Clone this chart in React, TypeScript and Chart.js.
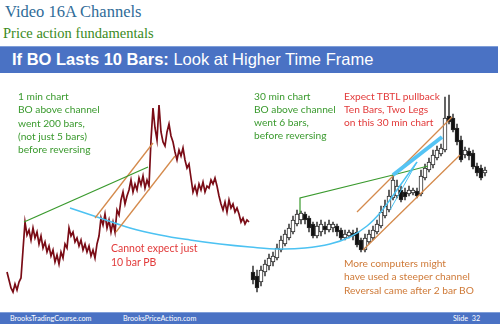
import React, { useEffect, useRef } from "react";
import { Chart, registerables } from "chart.js";

Chart.register(...registerables);

// ---- 1 min chart (left): closes sampled every 2 slide units, from t=7
const oneMinStart = 7;
const oneMinStep = 2;
const oneMinPrice = [
  52, 44, 36, 32, 40, 34, 42, 46, 74, 102, 89, 94, 84, 96, 86, 92, 80, 88, 76, 82,
  72, 78, 68, 74, 62, 69, 60, 72, 66, 80, 76, 96, 88, 92, 82, 86, 78, 84, 74, 80,
  72, 78, 68, 74, 66, 80, 88, 106, 99, 110, 96, 104, 92, 102, 92, 114, 109, 124, 132, 120,
  128, 134, 144, 132, 140, 134, 146, 139, 148, 136, 144, 138, 184, 216, 196, 184, 219, 192, 182, 178,
  192, 200, 188, 182, 172, 164, 174, 168, 176, 164, 156, 160, 146, 132, 138, 130, 140, 134, 142, 132,
  138, 136, 144, 140, 146, 138, 128, 120, 114, 122, 112, 124, 116, 120, 112, 116, 110, 102, 106, 100,
  104, 102,
];

// ---- 30 min chart (right): OHLC candles
const candleStart = 253;
const candleStep = 4;
const candleOpen = [
  52, 48, 42, 52, 58, 62, 66, 74, 80, 86, 92, 100, 104, 110, 106, 100, 88, 92, 98, 94,
  96, 98, 94, 86, 88, 91, 92, 84, 74, 82, 86, 92, 98, 108, 114, 126, 128, 134, 132, 130,
  131, 133, 130, 146, 154, 159, 166, 170, 174, 208, 206, 196, 184, 169, 173, 171, 158, 156, 151,
];
const candleHigh = [
  58, 54, 58, 64, 70, 72, 80, 88, 94, 100, 108, 114, 113, 112, 108, 102, 102, 104, 102, 104,
  102, 100, 96, 94, 94, 94, 96, 86, 90, 94, 98, 104, 118, 124, 134, 149, 144, 138, 136, 138,
  136, 136, 154, 160, 166, 174, 178, 180, 227, 229, 210, 200, 188, 177, 176, 174, 161, 159, 157,
];
const candleLow = [
  40, 32, 38, 48, 54, 58, 64, 72, 78, 84, 90, 98, 100, 100, 92, 86, 86, 88, 90, 92,
  92, 88, 84, 84, 86, 84, 77, 72, 72, 80, 84, 90, 96, 106, 112, 124, 126, 122, 124, 128,
  129, 126, 128, 144, 152, 156, 164, 168, 172, 200, 192, 179, 162, 166, 164, 155, 148, 144, 148,
];
const candleClose = [
  44, 36, 54, 60, 66, 68, 76, 84, 90, 96, 104, 110, 111, 104, 96, 88, 98, 100, 94, 100,
  100, 92, 86, 90, 92, 88, 79, 74, 86, 90, 94, 100, 112, 118, 128, 144, 138, 124, 127, 134,
  134, 128, 148, 156, 162, 169, 174, 176, 206, 202, 194, 182, 164, 174, 168, 157, 151, 146, 154,
];

// ---- drawn annotations (slide units x, price y)
const greenLeft = [[24, 102], [148, 157]];
const orangeLeftUpper = [[95, 106], [153, 181]];
const orangeLeftLower = [[116, 92], [175, 168]];
const cyanArc = [
  [70, 116], [100, 106], [130, 96], [160, 89], [190, 84], [220, 80], [250, 77], [280, 75],
  [305, 76], [330, 80], [350, 87], [367, 98], [380, 111], [392, 127], [404, 144], [417, 162],
];
const cyanSteep = [[390, 114], [417, 162]];
const cyanThick = [[393, 149], [442, 187]];
const greenRight = [[300, 111], [300, 126], [393, 149], [428, 158]];
const orangeRightUpper = [[357, 112], [452, 207]];
const orangeRightLower = [[363, 74], [460, 169]];

const toXY = (pts: number[][]) => pts.map(([x, y]) => ({ x, y }));

const lineDs = (pts: number[][], color: string, width: number, tension = 0) => ({
  type: "line" as const,
  data: toXY(pts),
  xAxisID: "x",
  borderColor: color,
  borderWidth: width,
  pointRadius: 0,
  tension,
  fill: false,
  order: 0,
});

function SlideChart() {
  const ref = useRef<HTMLCanvasElement | null>(null);
  useEffect(() => {
    if (!ref.current) return;
    const candleIdx = candleOpen.map((_, i) => i);
    const chart = new Chart(ref.current, {
      type: "line",
      data: {
        datasets: [
          {
            type: "line",
            data: oneMinPrice.map((p, i) => ({ x: i, y: p })),
            xAxisID: "xl",
            borderColor: "#7a0c16",
            borderWidth: 1.7,
            pointRadius: 0,
            tension: 0,
            order: 3,
          },
          {
            type: "bar",
            data: candleIdx.map((i) => ({ x: i, y: [candleLow[i], candleHigh[i]] })),
            xAxisID: "xc",
            backgroundColor: "#444444",
            barThickness: 1,
            grouped: false,
            order: 2,
          } as any,
          {
            type: "bar",
            data: candleIdx.map((i) => ({
              x: i,
              y: [Math.min(candleOpen[i], candleClose[i]), Math.max(candleOpen[i], candleClose[i])],
            })),
            xAxisID: "xc",
            backgroundColor: candleIdx.map((i) => (candleClose[i] >= candleOpen[i] ? "#ffffff" : "#111111")),
            borderColor: "#2a2a2a",
            borderWidth: 1,
            borderSkipped: false,
            barThickness: 4,
            grouped: false,
            order: 1,
          } as any,
          lineDs(greenLeft, "#3a9a2e", 1.3),
          lineDs(orangeLeftUpper, "#d48a4c", 1.3),
          lineDs(orangeLeftLower, "#d48a4c", 1.3),
          lineDs(cyanArc, "#4cc2f2", 1.5, 0.4),
          lineDs(cyanSteep, "#4cc2f2", 1),
          lineDs(cyanThick, "#55c4f4", 4),
          lineDs(greenRight, "#3a9a2e", 1.2),
          lineDs(orangeRightUpper, "#d48a4c", 1.3),
          lineDs(orangeRightLower, "#d48a4c", 1.3),
        ] as any,
      },
      options: {
        responsive: false,
        animation: false,
        devicePixelRatio: 1,
        layout: { padding: 0 },
        plugins: { legend: { display: false }, tooltip: { enabled: false } },
        scales: {
          x: { type: "linear", min: 0, max: 500, display: false, offset: false },
          xl: {
            type: "linear",
            axis: "x",
            min: -oneMinStart / oneMinStep,
            max: (500 - oneMinStart) / oneMinStep,
            display: false,
            offset: false,
          },
          xc: {
            type: "linear",
            axis: "x",
            min: -candleStart / candleStep,
            max: (500 - candleStart) / candleStep,
            display: false,
            offset: false,
          },
          y: { type: "linear", min: 0, max: 324, display: false },
        },
      } as any,
    });
    return () => chart.destroy();
  }, []);
  return (
    <canvas
      ref={ref}
      width={500}
      height={324}
      style={{ position: "absolute", left: 0, top: 0, width: 500, height: 324 }}
    />
  );
}

const noteFont = "Lato, 'Noto Sans', sans-serif";

function Note(props: { left: number; top: number; color: string; lines: string[]; size?: number; lh?: number }) {
  return (
    <div
      style={{
        position: "absolute",
        left: props.left,
        top: props.top,
        color: props.color,
        fontFamily: noteFont,
        fontSize: props.size ?? 10.2,
        lineHeight: `${props.lh ?? 13.3}px`,
        whiteSpace: "pre",
      }}
    >
      {props.lines.map((l, i) => (
        <div key={i}>{l}</div>
      ))}
    </div>
  );
}

export default function App() {
  return (
    <div
      style={{
        position: "fixed",
        left: 0,
        top: 0,
        width: 500,
        height: 324,
        background: "#ffffff",
        overflow: "hidden",
      }}
    >
      <div
        style={{
          position: "absolute",
          left: 5,
          top: 2,
          fontFamily: "'Liberation Serif', serif",
          fontSize: 16.5,
          color: "#2f6b98",
          lineHeight: "20px",
          whiteSpace: "pre",
        }}
      >
        Video 16A Channels
      </div>
      <div
        style={{
          position: "absolute",
          left: 3,
          top: 24,
          fontFamily: "'Liberation Serif', serif",
          fontSize: 14.5,
          color: "#3a8a22",
          lineHeight: "18px",
          whiteSpace: "pre",
        }}
      >
        Price action fundamentals
      </div>
      <div
        style={{
          position: "absolute",
          left: 0,
          top: 46,
          width: 498,
          height: 27,
          background: "#4a72c4",
          borderTop: "1px solid #7f9ed8",
          boxSizing: "border-box",
        }}
      />
      <div
        style={{
          position: "absolute",
          left: 12,
          top: 49,
          color: "#ffffff",
          fontFamily: "'Liberation Sans', Arial, sans-serif",
          fontSize: 16.5,
          lineHeight: "20px",
          whiteSpace: "pre",
        }}
      >
        <span style={{ fontWeight: "bold" }}>If BO Lasts 10 Bars:</span> Look at Higher Time Frame
      </div>

      <SlideChart />

      <Note
        left={18}
        top={90}
        color="#3a9a2e"
        lines={["1 min chart", "BO above channel", "went 200 bars,", "(not just 5 bars)", "before reversing"]}
      />
      <Note left={111} top={241} color="#e23a3a" size={10.5} lh={14} lines={["Cannot expect just", "10 bar PB"]} />
      <Note
        left={254}
        top={90}
        color="#3a9a2e"
        lh={13}
        lines={["30 min chart", "BO above channel", "went 6 bars,", "before reversing"]}
      />
      <Note
        left={344}
        top={90}
        color="#e23a3a"
        lh={13}
        lines={["Expect TBTL pullback", "Ten Bars, Two Legs", "on this 30 min chart"]}
      />
      <Note
        left={344}
        top={257}
        color="#cf7a38"
        lines={["More computers might", "have used a steeper channel", "Reversal came after 2 bar BO"]}
      />

      <div
        style={{
          position: "absolute",
          left: 0,
          top: 312,
          width: 500,
          height: 12,
          background: "#4a72c4",
          borderTop: "1px solid #7f9ed8",
          boxSizing: "border-box",
        }}
      />
      {[
        { t: "BrooksTradingCourse.com", x: 10 },
        { t: "BrooksPriceAction.com", x: 123 },
        { t: "Slide  32", x: 453 },
      ].map((f) => (
        <div
          key={f.t}
          style={{
            position: "absolute",
            left: f.x,
            top: 313,
            color: "#ffffff",
            fontFamily: noteFont,
            fontSize: 7.2,
            lineHeight: "11px",
            whiteSpace: "pre",
          }}
        >
          {f.t}
        </div>
      ))}
    </div>
  );
}
